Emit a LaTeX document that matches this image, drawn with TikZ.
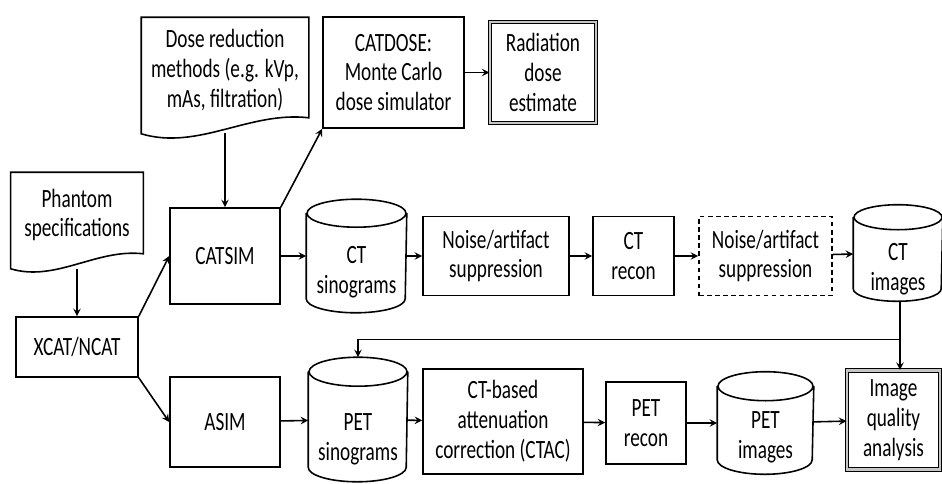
\documentclass[tikz,border=0pt]{standalone}
\usepackage{fontspec}
\setmainfont{Carlito}[FakeStretch=0.73]
\usepackage{tikz}
\usetikzlibrary{shapes.geometric, arrows}
\tikzstyle{process} = [rectangle, text centered, align=center, draw=black, inner sep=1pt]
\tikzstyle{doc} = [rectangle, text centered, align=center, inner sep=1pt]
\tikzstyle{store} = [rectangle, inner sep=0pt]
\tikzstyle{storetext} = [text centered, align=center, inner sep=1pt]
\tikzstyle{result} = [process, line width=0.6pt, double=gray!45, double distance=1.3pt]
\tikzstyle{optional} = [process, dash pattern=on 2.6pt off 2pt]
\tikzstyle{arrow} = [->,>=stealth]

\begin{document}
\begin{tikzpicture}[node distance=2cm, line width=0.9pt, font=\fontsize{15}{17}\selectfont]
    \useasboundingbox (0,0) rectangle (18.84,-9.66);
    \node (xcat) [process, minimum width=2.44cm, minimum height=1.2cm] at (1.54,-6.94) {XCAT/NCAT};
    \node (phantom) [doc, above of=xcat, yshift=0.64cm, minimum width=2.62cm, minimum height=1.68cm] {Phantom\\specifications};
    \node (catsim) [process, right of=xcat, xshift=0.96cm, yshift=1.82cm, minimum width=2.2cm, minimum height=1.92cm] {CATSIM};
    \node (asim) [process, below of=catsim, yshift=-1.32cm, minimum width=2.2cm, minimum height=1.8cm] {ASIM};
    \node (dose) [doc, above of=catsim, yshift=1.72cm, minimum width=3.32cm, minimum height=2.08cm] {Dose reduction\\methods (e.g. kVp,\\mAs, filtration)};
    \node (ctsino) [store, right of=catsim, xshift=0.63cm, minimum width=1.98cm, minimum height=2.24cm] {};
    \node (ctsinotext) [storetext] at ([yshift=-0.32cm]ctsino) {CT\\sinograms};
    \node (catdose) [process, above of=ctsino, xshift=0.74cm, yshift=1.67cm, minimum width=2.82cm, minimum height=2.22cm] {CATDOSE:\\Monte Carlo\\dose simulator};
    \node (raddose) [result, right of=catdose, xshift=0.99cm, minimum width=2.12cm, minimum height=2.02cm] {Radiation\\dose\\estimate};
    \node (ctnoise) [process, right of=ctsino, xshift=0.79cm, minimum width=2.92cm, minimum height=1.58cm] {Noise/artifact\\suppression};
    \node (ctrecon) [process, right of=ctnoise, xshift=0.75cm, minimum width=1.62cm, minimum height=1.58cm] {CT\\recon};
    \node (imgnoise) [optional, right of=ctrecon, xshift=0.64cm, minimum width=2.66cm, minimum height=1.58cm] {Noise/artifact\\suppression};
    \node (ctimg) [store, right of=imgnoise, xshift=0.65cm, yshift=0.06cm, minimum width=1.76cm, minimum height=1.9cm] {};
    \node (ctimgtext) [storetext] at ([yshift=-0.32cm]ctimg) {CT\\images};
    \node (petsino) [store, right of=asim, xshift=0.66cm, yshift=0.05cm, minimum width=1.96cm, minimum height=2.46cm] {};
    \node (petsinotext) [storetext] at ([yshift=-0.4cm]petsino) {PET\\sinograms};
    \node (ctac) [process, right of=petsino, xshift=0.9cm, yshift=-0.04cm, minimum width=3.2cm, minimum height=2.1cm] {CT-based\\attenuation\\correction (CTAC)};
    \node (petrecon) [process, right of=ctac, xshift=0.86cm, yshift=-0.03cm, minimum width=1.6cm, minimum height=1.64cm] {PET\\recon};
    \node (petimg) [store, right of=petrecon, xshift=0.39cm, minimum width=1.9cm, minimum height=2.02cm] {};
    \node (petimgtext) [storetext] at ([yshift=-0.29cm]petimg) {PET\\images};
    \node (quality) [result, right of=petimg, xshift=0.56cm, yshift=0.06cm, minimum width=1.86cm, minimum height=1.98cm] {Image\\quality\\analysis};
    % document outlines
    \draw (dose.north west) -- (dose.north east) -- ([yshift=0.1cm]dose.south east) .. controls +(-1.18,0.14) and +(1.14,-0.34) .. ([yshift=-0.22cm]dose.south west) -- cycle;
    \draw (phantom.north west) -- (phantom.north east) -- ([yshift=0.08cm]phantom.south east) .. controls +(-0.93,0.11) and +(0.9,-0.27) .. ([yshift=-0.22cm]phantom.south west) -- cycle;
    % cylinder outlines
    \draw ([yshift=-0.28cm]ctsino.north) ellipse (0.99cm and 0.28cm);
    \draw ([yshift=-0.28cm]ctsino.north west) -- ([yshift=0.28cm]ctsino.south west) arc (180:360:0.99cm and 0.28cm) -- ([yshift=-0.28cm]ctsino.north east);
    \draw ([yshift=-0.25cm]ctimg.north) ellipse (0.88cm and 0.25cm);
    \draw ([yshift=-0.25cm]ctimg.north west) -- ([yshift=0.25cm]ctimg.south west) arc (180:360:0.88cm and 0.25cm) -- ([yshift=-0.25cm]ctimg.north east);
    \draw ([yshift=-0.29cm]petsino.north) ellipse (0.98cm and 0.29cm);
    \draw ([yshift=-0.29cm]petsino.north west) -- ([yshift=0.29cm]petsino.south west) arc (180:360:0.98cm and 0.29cm) -- ([yshift=-0.29cm]petsino.north east);
    \draw ([yshift=-0.29cm]petimg.north) ellipse (0.95cm and 0.29cm);
    \draw ([yshift=-0.29cm]petimg.north west) -- ([yshift=0.29cm]petimg.south west) arc (180:360:0.95cm and 0.29cm) -- ([yshift=-0.29cm]petimg.north east);
    \coordinate (split) at ([xshift=0.04cm, yshift=-0.76cm]ctimg.south);
    \draw [arrow] ([yshift=-0.22cm]phantom.south) -- (xcat.north);
    \draw [arrow] ([yshift=-0.2cm]dose.south) -- (catsim.north);
    \draw [arrow] (xcat.north east) -- (catsim.west);
    \draw [arrow] (xcat.south east) -- (asim.west);
    \draw [arrow] (catsim.north east) -- (catdose.south west);
    \draw [arrow] (catdose) -- (raddose);
    \draw [arrow] (catsim) -- (ctsino);
    \draw [arrow] (ctsino) -- (ctnoise);
    \draw [arrow] (ctnoise) -- (ctrecon);
    \draw [arrow] (ctrecon) -- (imgnoise);
    \draw [arrow] (imgnoise) -- (ctimg);
    \draw [arrow] (split |- ctimg.south) -- (split) -| (petsino.north);
    \draw [arrow] (split) -- (split |- quality.north);
    \draw [arrow] (asim) -- (petsino);
    \draw [arrow] (petsino) -- (ctac);
    \draw [arrow] (ctac) -- (petrecon);
    \draw [arrow] (petrecon) -- (petimg);
    \draw [arrow] (petimg) -- (quality);
\end{tikzpicture}
\end{document}
